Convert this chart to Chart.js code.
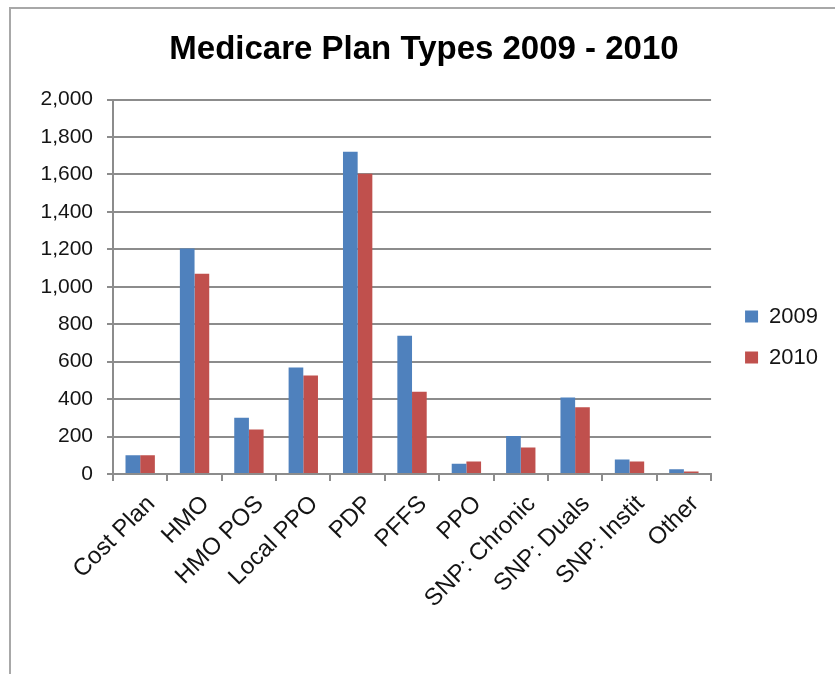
<!DOCTYPE html>
<html>
<head>
<meta charset="utf-8">
<title>Medicare Plan Types 2009 - 2010</title>
<script src="https://cdn.jsdelivr.net/npm/chart.js@4.4.1/dist/chart.umd.min.js"></script>
<style>
  body { margin: 0; background: #fff; }
  #frame {
    position: absolute; left: 9px; top: 7px; width: 830px; height: 670px;
    border-top: 2px solid #a8a8a8; border-left: 2px solid #a8a8a8;
  }
  #chart { position: absolute; left: 0; top: 0; }
</style>
</head>
<body>
<div id="frame"></div>
<canvas id="chart" width="835" height="674"></canvas>
<script>
// plan types on the x axis
const categories = ['Cost Plan', 'HMO', 'HMO POS', 'Local PPO', 'PDP', 'PFFS', 'PPO',
    'SNP: Chronic', 'SNP: Duals', 'SNP: Instit', 'Other'];

// number of plans
const plans2009 = [100, 1205, 300, 569, 1721, 738, 55, 203, 409, 78, 25];
const plans2010 = [100, 1070, 238, 526, 1604, 439, 67, 142, 356, 67, 14];

const yMin = 0;
const yMax = 2000;
const yStep = 200;

const font = 'Arial, "Liberation Sans", sans-serif';
const axisColor = '#8c8c8c';
const textColor = '#141414';

const ctx = document.getElementById('chart').getContext('2d');

new Chart(ctx, {
    type: 'bar',
    data: {
        labels: categories,
        datasets: [
            {
                label: '2009',
                data: plans2009,
                backgroundColor: '#4f81bd',
                categoryPercentage: 0.54,
                barPercentage: 1.0,
            },
            {
                label: '2010',
                data: plans2010,
                backgroundColor: '#c0504d',
                categoryPercentage: 0.54,
                barPercentage: 1.0,
            },
        ],
    },
    options: {
        responsive: false,
        animation: false,
        layout: {
            padding: { left: 20, right: 7 },
        },
        plugins: {
            title: {
                display: true,
                text: 'Medicare Plan Types 2009 - 2010',
                color: '#000',
                font: { family: font, size: 33, weight: 'bold' },
                padding: { top: 30, bottom: 30 },
            },
            legend: {
                position: 'right',
                labels: {
                    boxWidth: 13,
                    boxHeight: 12,
                    padding: 19,
                    color: textColor,
                    font: { family: font, size: 22 },
                },
            },
            tooltip: { enabled: false },
        },
        scales: {
            x: {
                grid: {
                    offset: true,
                    drawOnChartArea: false,
                    tickLength: 7,
                    color: axisColor,
                    lineWidth: 2,
                },
                border: { color: axisColor, width: 2 },
                ticks: {
                    minRotation: 45,
                    maxRotation: 45,
                    padding: 9,
                    labelOffset: 11,
                    color: textColor,
                    font: { family: font, size: 24 },
                },
                afterFit: (scale) => { scale.height = 200; },
            },
            y: {
                min: yMin,
                max: yMax,
                ticks: {
                    stepSize: yStep,
                    padding: 14,
                    color: textColor,
                    font: { family: font, size: 21 },
                },
                grid: { color: axisColor, lineWidth: 2, tickLength: 6 },
                border: { color: axisColor, width: 2 },
                afterFit: (scale) => { scale.width = 93; },
            },
            // empty gap between the plot and the legend
            gap: {
                type: 'linear',
                position: 'right',
                grid: { display: false },
                border: { display: false },
                ticks: { display: false },
                afterFit: (scale) => { scale.width = 15; },
            },
        },
    },
});
</script>
</body>
</html>
